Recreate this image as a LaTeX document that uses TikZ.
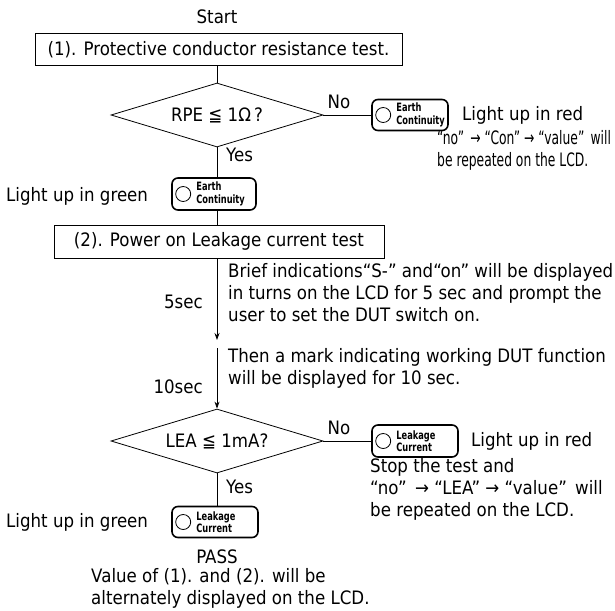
\documentclass[tikz,border=0pt]{standalone}
\usepackage{fontspec}
\usepackage{graphicx}
\setmainfont{DejaVu Sans}[FakeStretch=0.9]
\newfontfamily\pillfont{DejaVu Sans}[FakeStretch=0.72]
\usetikzlibrary{shapes.geometric,arrows.meta}
\newcommand{\myleq}{≦}
\newcommand{\myarr}{→}
\newcommand{\narrow}[1]{\scalebox{0.74}[1]{#1}}
\newcommand{\mypill}[6]{%
  \node[pill, minimum width=#3, minimum height=#4] (#1) at (#2) {};
  \draw[line width=0.8pt] ([xshift=12pt]#1.west) circle (7.5pt);
  \node[pilltxt] (#1t) at ([xshift=25pt]#1.west) {#5\\#6};
}
\begin{document}
\begin{tikzpicture}[x=1pt,y=-1pt,
  font=\fontsize{18.5}{22}\selectfont,
  box/.style={draw, line width=0.8pt, minimum height=32, inner sep=0},
  dia/.style={draw, diamond, line width=0.8pt, minimum width=212, minimum height=64, inner sep=0, aspect=3.3},
  pill/.style={draw, rounded corners=6pt, line width=1.6pt, inner sep=0},
  pilltxt/.style={anchor=west, inner sep=0, align=left, font=\pillfont\bfseries\fontsize{11.5}{12.5}\selectfont},
  lbl/.style={inner sep=0, anchor=west, align=left},
  conn/.style={line width=0.8pt},
  arr/.style={conn, -{Stealth[length=7pt,width=5pt]}}]
\useasboundingbox (0,0) rectangle (615,610);
\node[inner sep=0] (start) at (217,17) {Start};
\node[box, minimum width=367] (b1) at (218.5,49.5) {(1). Protective conductor resistance test.};
\node[dia] (d1) at (217,115) {RPE \myleq{} 1Ω\,?};
\draw[conn] (d1.north |- b1.south) -- (d1.north);
\node[inner sep=0] (no1) at (339,102) {No};
\mypill{p1}{410,115}{76}{31}{Earth}{Continuity}
\draw[conn] (d1.east) -- (p1.west);
\node[lbl] (red1) at (462,115) {Light up in red};
\node[lbl] (t1) at (437,150) {\narrow{“no”\, \myarr\ “Con” \myarr\ “value”\, will}\\\narrow{be repeated on the LCD.}};
\node[lbl] (yes1) at (226,155) {Yes};
\mypill{p2}{214,194}{84}{32}{Earth}{Continuity}
\draw[conn] (d1.south) -- (d1.south |- p2.north);
\node[lbl] (green1) at (6,196) {Light up in green};
\node[box, minimum width=330, minimum height=33] (b2) at (219,241.5) {(2). Power on Leakage current test};
\draw[conn] (d1.south |- p2.south) -- (d1.south |- b2.north);
\coordinate (a1) at (217,340);
\coordinate (a2) at (217,348);
\node[dia] (d2) at (217,441) {LEA \myleq{} 1mA?};
\draw[arr] (d1.south |- b2.south) -- (a1);
\draw[arr] (a2) -- (d2.north);
\node[inner sep=0, anchor=east] (s5) at (203,302) {5sec};
\node[inner sep=0, anchor=east] (s10) at (203,387) {10sec};
\node[lbl] (brief) at (228,292.5) {Brief indications“S-” and“on” will be displayed\\in turns on the LCD for 5 sec and prompt the\\user to set the DUT switch on.};
\node[lbl] (then) at (228,368.5) {Then a mark indicating working DUT function\\will be displayed for 10 sec.};
\node[inner sep=0] (no2) at (339,428) {No};
\mypill{p3}{415,441}{86}{32}{Leakage}{Current}
\draw[conn] (d2.east) -- (p3.west);
\node[lbl] (red2) at (471,441) {Light up in red};
\node[lbl] (stop) at (370,489) {Stop the test and\\“no”\, \myarr\ “LEA” \myarr\ “value”\, will\\be repeated on the LCD.};
\node[lbl] (yes2) at (226,487) {Yes};
\mypill{p4}{215,522}{86}{31}{Leakage}{Current}
\draw[conn] (d2.south) -- (d2.south |- p4.north);
\node[lbl] (green2) at (6,522) {Light up in green};
\node[inner sep=0] (pass) at (217,557) {PASS};
\node[lbl] (value) at (91,588.5) {Value of (1). and (2). will be\\alternately displayed on the LCD.};
\end{tikzpicture}
\end{document}
